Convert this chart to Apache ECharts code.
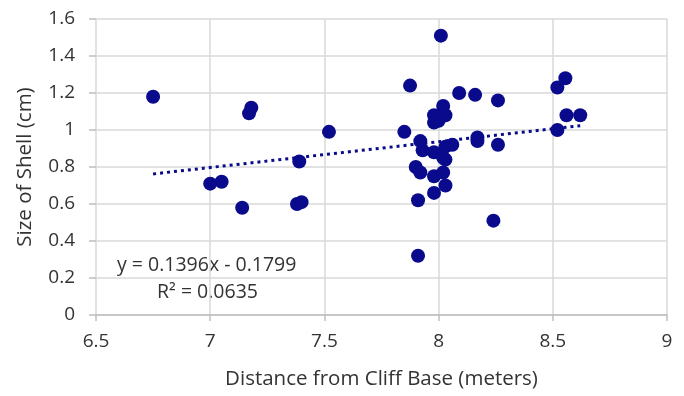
<!DOCTYPE html>
<html>
<head>
<meta charset="utf-8">
<script src="https://cdn.jsdelivr.net/npm/echarts@6/dist/echarts.min.js"></script>
<style>html,body{margin:0;padding:0;background:#fff}#c{width:684px;height:396px}</style>
</head>
<body>
<div id="c"></div>
<script>
const distance = [6.75,7.00,7.05,7.14,7.18,7.17,7.39,7.38,7.40,7.52,7.85,7.875,8.01,7.90,7.91,7.91,7.92,7.93,7.98,8.03,8.06,8.02,8.03,7.92,7.98,8.02,8.03,7.98,8.17,8.17,8.09,8.16,8.26,8.02,7.98,8.03,8.00,7.98,8.24,8.555,8.52,8.56,8.62,8.52,8.26];
const shellSize = [1.18,0.71,0.72,0.58,1.12,1.09,0.83,0.60,0.61,0.99,0.99,1.24,1.51,0.80,0.62,0.32,0.94,0.89,0.88,0.91,0.92,0.85,0.84,0.77,0.75,0.77,0.70,0.66,0.96,0.94,1.20,1.19,1.16,1.13,1.08,1.08,1.05,1.04,0.51,1.28,1.23,1.08,1.08,1.00,0.92];
const trendSlope = 0.1396;
const trendIntercept = -0.1799;
const trendX = [6.75, 8.62];
const xTicks = [6.5, 7, 7.5, 8, 8.5, 9];
const yTicks = [0, 0.2, 0.4, 0.6, 0.8, 1, 1.2, 1.4, 1.6];

const points = distance.map((x, i) => [x, shellSize[i]]);
const trend = trendX.map(x => [x, trendSlope * x + trendIntercept]);

const chart = echarts.init(document.getElementById('c'));
const font = '"Open Sans", "Noto Sans", sans-serif';
chart.setOption({
  animation: false,
  grid: {left: 96, right: 17, top: 19, bottom: 81},
  xAxis: {
    type: 'value', min: 6.5, max: 9, interval: 0.5,
    name: 'Distance from Cliff Base (meters)', nameLocation: 'middle', nameGap: 54,
    nameTextStyle: {fontFamily: font, fontSize: 20.5, color: '#333'},
    axisLine: {show: true, lineStyle: {color: '#bfbfbf', width: 1.5}},
    axisTick: {show: true, length: 6, lineStyle: {color: '#bfbfbf', width: 1.5}},
    axisLabel: {fontFamily: font, fontSize: 19, color: '#333', margin: 17, formatter: v => String(v)},
    splitLine: {show: true, lineStyle: {color: '#d9d9d9', width: 1.5}}
  },
  yAxis: {
    type: 'value', min: 0, max: 1.6, interval: 0.2,
    name: 'Size of Shell (cm)', nameLocation: 'middle', nameGap: 60,
    nameTextStyle: {fontFamily: font, fontSize: 20.5, color: '#333'},
    axisLine: {show: false},
    axisTick: {show: true, length: 7, lineStyle: {color: '#bfbfbf', width: 1.5}},
    axisLabel: {fontFamily: font, fontSize: 19, color: '#333', margin: 21, formatter: v => String(+v.toFixed(1))},
    splitLine: {show: true, lineStyle: {color: '#d9d9d9', width: 1.5}}
  },
  series: [
    {
      type: 'line', data: trend, showSymbol: false, silent: true,
      lineStyle: {color: '#0a0a8c', width: 3, type: [3, 4]}, z: 1
    },
    {
      type: 'scatter', data: points, symbolSize: 14,
      itemStyle: {color: '#0a0a8c', opacity: 1}, z: 2
    }
  ],
  graphic: [
    {type: 'text', left: 117, top: 255, style: {text: 'y = 0.1396x - 0.1799', fontFamily: font, fontSize: 19.5, fill: '#333'}},
    {type: 'text', left: 157, top: 282, style: {text: 'R² = 0.0635', fontFamily: font, fontSize: 19.5, fill: '#333'}}
  ]
});
</script>
</body>
</html>
